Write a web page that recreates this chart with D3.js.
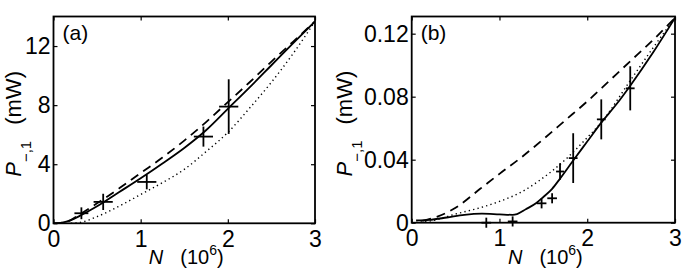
<!DOCTYPE html>
<html>
<head>
<meta charset="utf-8">
<script src="https://cdn.jsdelivr.net/npm/d3@7"></script>
<style>
  body { margin: 0; background: #fff; }
  svg { display: block; font-family: "Liberation Sans", Arial, sans-serif; }
</style>
</head>
<body>
<svg id="chart" width="685" height="278"></svg>
<script>
// panel (a) curves, N in 10^6, P in mW
var solidA = [[0, 0], [0.1, 0.05], [0.2, 0.22], [0.3, 0.5], [0.5, 1.15], [0.75, 2.1], [1.0, 3.05], [1.25, 4.05], [1.5, 5.1], [1.75, 6.3], [2.0, 7.75], [2.25, 9.2], [2.5, 10.7], [2.75, 12.2], [3.0, 13.67]];
var dashA = [[0, 0], [0.15, 0.1], [0.3, 0.6], [0.5, 1.35], [0.75, 2.35], [1.0, 3.4], [1.25, 4.45], [1.5, 5.6], [1.75, 6.85], [2.0, 8.2], [2.25, 9.55], [2.5, 10.95], [2.75, 12.3], [3.0, 13.67]];
var dotA = [[0.2, 0], [0.3, 0.05], [0.5, 0.45], [0.75, 1.15], [1.0, 1.95], [1.25, 2.75], [1.5, 3.65], [1.75, 4.85], [2.0, 6.15], [2.25, 7.8], [2.5, 9.55], [2.75, 11.5], [3.0, 13.67]];

// panel (a) measured points with error bars
var ptsAx = [0.32, 0.57, 1.07, 1.72, 2.01];
var ptsAy = [0.68, 1.45, 2.8, 5.87, 7.9];
var ptsAxe = [0.08, 0.11, 0.11, 0.11, 0.11];
var ptsAye = [0.4, 0.55, 0.5, 0.68, 1.85];

// panel (b) curves
var solidB = [[0.05, 0.0015], [0.2, 0.0018], [0.4, 0.0033], [0.6, 0.005], [0.8, 0.0057], [1.0, 0.0053], [1.15, 0.005], [1.2, 0.0055], [1.3, 0.0085], [1.42, 0.0125], [1.5, 0.0163], [1.6, 0.0215], [1.69, 0.028], [1.84, 0.0395], [2.0, 0.0515], [2.16, 0.0635], [2.33, 0.075], [2.49, 0.087], [2.75, 0.108], [3.0, 0.13]];
var dashB = [[0.12, 0.0012], [0.3, 0.004], [0.5, 0.0095], [0.78, 0.0215], [1.0, 0.031], [1.25, 0.0415], [1.5, 0.053], [1.75, 0.065], [2.0, 0.077], [2.25, 0.09], [2.5, 0.103], [2.75, 0.116], [3.0, 0.13]];
var dotB = [[0, 0], [0.25, 0.0015], [0.5, 0.0055], [0.78, 0.0095], [1.0, 0.0135], [1.25, 0.0195], [1.46, 0.027], [1.75, 0.04], [2.0, 0.054], [2.15, 0.063], [2.5, 0.091], [2.75, 0.111], [3.0, 0.13]];

// panel (b) measured points
var ptsBx = [0.85, 1.15, 1.48, 1.6, 1.69, 1.84, 2.16, 2.49];
var ptsBy = [0, 0.0008, 0.0123, 0.0155, 0.0325, 0.041, 0.0656, 0.0853];
var ptsBxe = [0.055, 0.055, 0.055, 0.055, 0.045, 0.05, 0.05, 0.05];
var ptsBye = [0.0032, 0.0032, 0.0032, 0.0032, 0.0053, 0.0158, 0.0127, 0.014];

var xTicks = [0, 1, 2, 3];
var yTicksA = [0, 4, 8, 12];
var yTicksB = [0, 0.04, 0.08, 0.12];
var yTickLabelsB = ["0", "0.04", "0.08", "0.12"];

const svg = d3.select("#chart");

function panel(opt) {
  let x = d3.scaleLinear().domain([0, 3]).range([opt.left, opt.left + opt.width]);
  let y = d3.scaleLinear().domain([0, opt.ymax]).range([opt.top + opt.height, opt.top]);
  let g = svg.append("g");

  g.append("clipPath").attr("id", opt.id + "clip")
    .append("rect")
    .attr("x", opt.left).attr("y", opt.top)
    .attr("width", opt.width).attr("height", opt.height);

  let line = d3.line()
    .x(d => x(d[0]))
    .y(d => y(d[1]))
    .curve(d3.curveMonotoneX);

  let curves = g.append("g").attr("clip-path", "url(#" + opt.id + "clip)")
    .attr("fill", "none").attr("stroke", "#000");
  curves.append("path").attr("d", line(opt.dot))
    .attr("stroke-width", 1.4).attr("stroke-dasharray", "1.3,3.2");
  curves.append("path").attr("d", line(opt.dash))
    .attr("stroke-width", 1.8).attr("stroke-dasharray", "9,6");
  curves.append("path").attr("d", line(opt.solid))
    .attr("stroke-width", 1.8);

  // error bars as crosses
  let bars = g.append("g").attr("stroke", "#000").attr("stroke-width", 1.8);
  opt.px.forEach((px, i) => {
    let py = opt.py[i];
    bars.append("line")
      .attr("x1", x(px - opt.pxe[i])).attr("x2", x(px + opt.pxe[i]))
      .attr("y1", y(py)).attr("y2", y(py));
    bars.append("line")
      .attr("x1", x(px)).attr("x2", x(px))
      .attr("y1", y(py - opt.pye[i])).attr("y2", y(py + opt.pye[i]));
  });

  // frame with inward ticks on every side
  let axisStyle = a => a.call(s => s.select(".domain").remove())
    .call(s => s.selectAll("line").attr("stroke", "#000").attr("stroke-width", 1.2))
    .call(s => s.selectAll("text").attr("fill", "#000")
      .style("font-size", "23px").style("font-family", "'Liberation Sans', Arial, sans-serif"));

  g.append("g").attr("transform", "translate(0," + (opt.top + opt.height) + ")")
    .call(d3.axisBottom(x).tickValues(xTicks).tickSizeInner(-4).tickSizeOuter(0).tickPadding(7).tickFormat(d3.format("d")))
    .call(axisStyle);
  g.append("g").attr("transform", "translate(0," + opt.top + ")")
    .call(d3.axisTop(x).tickValues(xTicks).tickSizeInner(-4).tickSizeOuter(0).tickFormat(""))
    .call(axisStyle);
  g.append("g").attr("transform", "translate(" + opt.left + ",0)")
    .call(d3.axisLeft(y).tickValues(opt.yTicks).tickSizeInner(-4).tickSizeOuter(0).tickPadding(3).tickFormat((d, i) => opt.yLabels[i]))
    .call(axisStyle);
  g.append("g").attr("transform", "translate(" + (opt.left + opt.width) + ",0)")
    .call(d3.axisRight(y).tickValues(opt.yTicks).tickSizeInner(-4).tickSizeOuter(0).tickFormat(""))
    .call(axisStyle);

  g.append("rect")
    .attr("x", opt.left).attr("y", opt.top)
    .attr("width", opt.width).attr("height", opt.height)
    .attr("fill", "none").attr("stroke", "#000").attr("stroke-width", 1.8);

  g.append("text")
    .attr("x", opt.left + 9).attr("y", opt.top + 23)
    .style("font-size", "21px")
    .text(opt.tag);

  // x label: N (10^6)
  let xl = g.append("text")
    .attr("x", opt.left + opt.width / 2 + 2).attr("y", 264)
    .attr("text-anchor", "middle").style("font-size", "20px");
  xl.append("tspan").attr("font-style", "italic").text("N");
  xl.append("tspan").attr("dx", 17).text("(10");
  xl.append("tspan").attr("dy", -9).style("font-size", "14px").text("6");
  xl.append("tspan").attr("dy", 9).text(")");

  // y label: P_{-,1} (mW)
  let yl = g.append("text")
    .attr("transform", "translate(" + opt.ylabelX + "," + (opt.top + opt.height / 2 + 4) + ") rotate(-90)")
    .attr("text-anchor", "middle").style("font-size", "22px");
  yl.append("tspan").attr("font-style", "italic").text("P");
  yl.append("tspan").attr("dy", 10).style("font-size", "15px").text("\u2212,1");
  yl.append("tspan").attr("dy", -10).attr("dx", 16).text("(mW)");
}

panel({
  id: "a", tag: "(a)", left: 53.5, top: 16.5, width: 261.5, height: 206.8, ymax: 14,
  yTicks: yTicksA, yLabels: yTicksA.map(String), ylabelX: 21,
  solid: solidA, dash: dashA, dot: dotA,
  px: ptsAx, py: ptsAy, pxe: ptsAxe, pye: ptsAye
});

panel({
  id: "b", tag: "(b)", left: 411.7, top: 16.5, width: 263.3, height: 206.2, ymax: 0.1309,
  yTicks: yTicksB, yLabels: yTickLabelsB, ylabelX: 352,
  solid: solidB, dash: dashB, dot: dotB,
  px: ptsBx, py: ptsBy, pxe: ptsBxe, pye: ptsBye
});
</script>
</body>
</html>
